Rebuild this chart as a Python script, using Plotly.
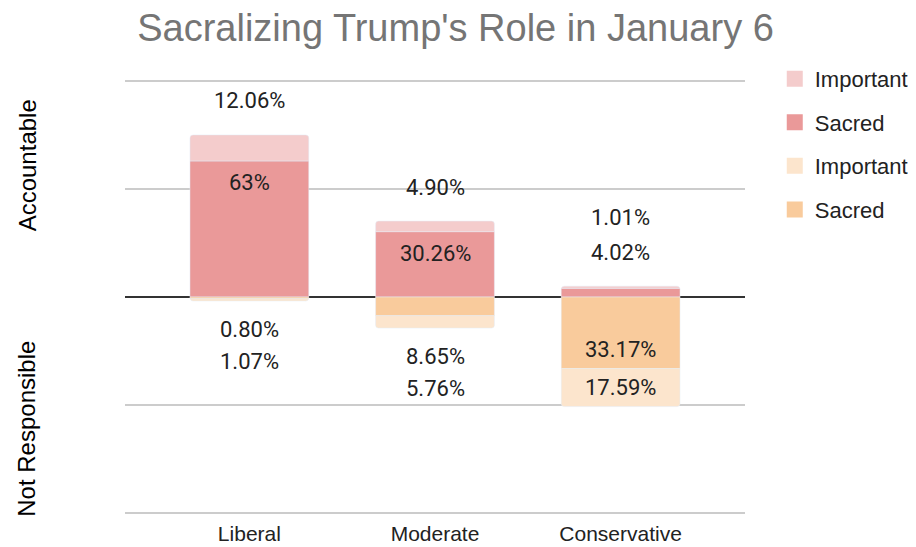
import plotly.graph_objects as go

groups = ["Liberal", "Moderate", "Conservative"]

# Accountable (above zero)
acc_sacred = [63, 30.26, 4.02]
acc_important = [12.06, 4.90, 1.01]
# Not Responsible (below zero)
nr_sacred = [0.80, 8.65, 33.17]
nr_important = [1.07, 5.76, 17.59]

col_acc_sacred = "#ea9999"
col_acc_imp = "#f4cccc"
col_nr_sacred = "#f9cb9c"
col_nr_imp = "#fce5cd"


def fmt(v):
    if float(v).is_integer():
        return f"{int(v)}%"
    return f"{v:.2f}%"


fig = go.Figure()

# bars (stacked, negative side drawn as negative values)
fig.add_trace(go.Bar(x=groups, y=acc_sacred, marker_color=col_acc_sacred, showlegend=False,
                     hoverinfo="skip"))
fig.add_trace(go.Bar(x=groups, y=acc_important, marker_color=col_acc_imp, showlegend=False,
                     hoverinfo="skip"))
fig.add_trace(go.Bar(x=groups, y=[-v for v in nr_sacred], marker_color=col_nr_sacred,
                     showlegend=False, hoverinfo="skip"))
fig.add_trace(go.Bar(x=groups, y=[-v for v in nr_important], marker_color=col_nr_imp,
                     showlegend=False, hoverinfo="skip"))

# legend entries (bigger squares than bar legend icons)
for i, (name, c) in enumerate([("Important", col_acc_imp), ("Sacred", col_acc_sacred),
                               ("Important", col_nr_imp), ("Sacred", col_nr_sacred)]):
    fig.add_trace(go.Scatter(x=[None], y=[None], mode="markers", name=name,
                             marker=dict(symbol="square", size=20, color=c),
                             legendgroup=f"g{i}", legendrank=i + 1))

# data labels
lab_font = dict(family="Roboto", size=22, color="#222222")
for i, g in enumerate(groups):
    # upper stack
    cum = 0
    outside = 0
    for v in [acc_sacred[i], acc_important[i]]:
        cum += v
        if v >= 15:
            fig.add_annotation(x=g, y=cum, text=fmt(v), showarrow=False, yshift=-22,
                               font=lab_font)
    for v in [acc_sacred[i], acc_important[i]]:
        if v < 15:
            fig.add_annotation(x=g, y=cum, text=fmt(v), showarrow=False,
                               yshift=34 + 35 * outside, font=lab_font)
            outside += 1
    # lower stack
    cum = 0
    outside = 0
    for v in [nr_sacred[i], nr_important[i]]:
        cum -= v
        if v >= 15:
            fig.add_annotation(x=g, y=cum, text=fmt(v), showarrow=False, yshift=19,
                               font=lab_font)
    for v in [nr_sacred[i], nr_important[i]]:
        if v < 15:
            fig.add_annotation(x=g, y=cum, text=fmt(v), showarrow=False,
                               yshift=-(28 + 32 * outside), font=lab_font)
            outside += 1

# side titles
side_font = dict(family="Liberation Sans, Arial", size=24, color="#000000")
fig.add_annotation(xref="paper", x=-0.158, y=61, text="Accountable", textangle=-90,
                   xanchor="center", yanchor="middle", showarrow=False, font=side_font)
fig.add_annotation(xref="paper", x=-0.158, y=-61, text="Not Responsible", textangle=-90,
                   xanchor="center", yanchor="middle", showarrow=False, font=side_font)

# page has an 8px body margin, so the figure is drawn 8px smaller and offset
W, H = 908, 539
fig.update_layout(
    width=W, height=H,
    barmode="relative",
    bargap=0.36,
    barcornerradius=3,
    plot_bgcolor="white",
    paper_bgcolor="white",
    margin=dict(l=117, r=171, t=72, b=33, autoexpand=False),
    title=dict(text="Sacralizing Trump's Role in January 6", x=447.5 / W, xanchor="center",
               y=1 - 20 / H, yanchor="middle",
               font=dict(family="Liberation Sans, Arial", size=38, color="#757575")),
    legend=dict(x=1.048, y=1.051, xanchor="left", yanchor="top", traceorder="grouped",
                tracegroupgap=12, font=dict(family="Liberation Sans, Arial", size=22,
                                            color="#222222")),
)
fig.update_xaxes(range=[-0.67, 2.67], showgrid=False, ticks="outside", ticklen=0,
                 ticklabelstandoff=1, automargin=False,
                 tickfont=dict(family="Liberation Sans, Arial", size=21, color="#222222"))
fig.update_yaxes(range=[-100.5, 100.5], tickvals=[-100, -50, 0, 50, 100],
                 showticklabels=False, automargin=False,
                 gridcolor="#cccccc", gridwidth=1.5, zeroline=True, zerolinecolor="#333333",
                 zerolinewidth=1.5)

fig.write_html("out.html")
